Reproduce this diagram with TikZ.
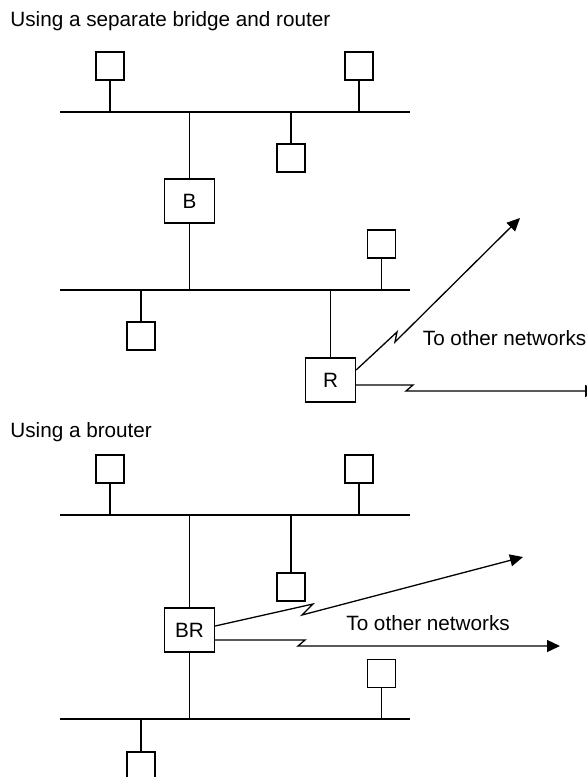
\documentclass[tikz,border=0pt]{standalone}
\usepackage{fontspec}
\setmainfont{Liberation Sans}
\usepackage{tikz}
\usetikzlibrary{arrows.meta,positioning,calc}

\begin{document}
\begin{tikzpicture}[x=0.5pt,y=-0.5pt,font=\fontsize{10.35}{12}\selectfont,
 host/.style={draw,line width=.65pt,minimum size=14pt,inner sep=0pt},
 dev/.style={draw,line width=.65pt,minimum width=25pt,minimum height=22pt,inner sep=0pt},
 bus/.style={line width=.65pt},
 link/.style={line width=.65pt},
 arrow/.style={-{Triangle[length=6.5pt,width=6pt]},line width=.65pt},
 lbl/.style={inner sep=0pt,anchor=base west}]
\useasboundingbox (0,0) rectangle (586,777);
\node[lbl] (t1) at (10,26) {Using a separate bridge and router};
\coordinate (l1w) at (60,112); \coordinate (l1e) at (410,112);
\coordinate (l2w) at (60,290); \coordinate (l2e) at (410,290);
\draw[bus] (l1w) -- (l1e);
\draw[bus] (l2w) -- (l2e);
\node[host] (a1) at (110,66) {};
\node[host] (a2) at (359,66) {};
\node[host] (a3) at (291,158) {};
\node[dev] (B) at (189.5,201) {B};
\node[host] (a4) at (381.5,244) {};
\node[host] (a5) at (141,336) {};
\node[dev] (R) at (330.5,380) {R};
\draw[link] (a1) -- (a1 |- l1w);
\draw[link] (a2) -- (a2 |- l1w);
\draw[link] (a3) -- (a3 |- l1w);
\draw[link] (B) -- (B |- l1w);
\draw[link] (B) -- (B |- l2w);
\draw[link] (a4) -- (a4 |- l2w);
\draw[link] (a5) -- (a5 |- l2w);
\draw[link] (R) -- (R |- l2w);
\coordinate (out1) at (520,218);
\coordinate (out2) at (598,391);
\draw[arrow] ([yshift=5pt]R.east) -- (397,332) -- (395,342) -- (out1);
\draw[arrow] ([yshift=-2.5pt]R.east) -- (413,385) -- (406,391) -- (out2);
\node[lbl] (n1) at (422.5,345) {To other networks};
\node[lbl] (t2) at (10,437) {Using a brouter};
\coordinate (l3w) at (60,515); \coordinate (l3e) at (410,515);
\coordinate (l4w) at (60,719); \coordinate (l4e) at (410,719);
\draw[bus] (l3w) -- (l3e);
\draw[bus] (l4w) -- (l4e);
\node[host] (c1) at (110,469) {};
\node[host] (c2) at (359,469) {};
\node[host] (c3) at (291,587) {};
\node[dev] (BR) at (189.5,630) {BR};
\node[host] (c4) at (381.5,673.5) {};
\node[host] (c5) at (141,766) {};
\draw[link] (c1) -- (c1 |- l3w);
\draw[link] (c2) -- (c2 |- l3w);
\draw[link] (c3) -- (c3 |- l3w);
\draw[link] (BR) -- (BR |- l3w);
\draw[link] (BR) -- (BR |- l4w);
\draw[link] (c4) -- (c4 |- l4w);
\draw[link] (c5) -- (c5 |- l4w);
\coordinate (out3) at (523,557);
\coordinate (out4) at (560,646);
\draw[arrow] ([yshift=2pt]BR.east) -- (313,604) -- (302,615) -- (out3);
\draw[arrow] ([yshift=-5pt]BR.east) -- (305,640) -- (298,646) -- (out4);
\node[lbl] (n2) at (346,630) {To other networks};
\end{tikzpicture}
\end{document}
